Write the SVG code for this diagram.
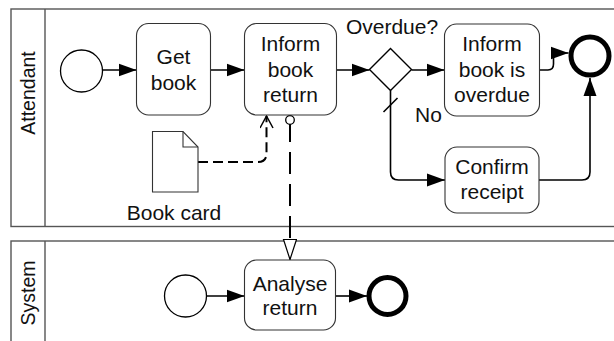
<svg xmlns="http://www.w3.org/2000/svg" width="614" height="341" viewBox="0 0 614 341">
<defs>
<marker id="arr" markerWidth="18" markerHeight="14" refX="18" refY="7" orient="auto" markerUnits="userSpaceOnUse">
<path d="M0,0.5 L18,7 L0,13.5 Z" fill="#000"/>
</marker>
<marker id="open" markerWidth="16" markerHeight="16" refX="13" refY="7" orient="auto" markerUnits="userSpaceOnUse">
<path d="M1,0.5 L13,7 L1,13.5" fill="none" stroke="#000" stroke-width="1.5"/>
</marker>
<marker id="msg" markerWidth="23" markerHeight="16" refX="21" refY="7" orient="auto" markerUnits="userSpaceOnUse">
<path d="M1,0.5 L21,7 L1,13.5 Z" fill="#fff" stroke="#000" stroke-width="1.2"/>
</marker>
<marker id="dot" markerWidth="12" markerHeight="12" refX="6" refY="6" orient="auto" markerUnits="userSpaceOnUse">
<circle cx="6" cy="6" r="4.3" fill="#fff" stroke="#000" stroke-width="1.3"/>
</marker>
</defs>
<style>
text{font-family:"Liberation Sans",Arial,sans-serif;font-size:21px;fill:#111}
.c{text-anchor:middle}
.lbl{font-size:19.5px}
.pool{fill:#fff;stroke:#555;stroke-width:1.4}
.task{fill:#fff;stroke:#333;stroke-width:1.1}
.start{fill:#fff;stroke:#000;stroke-width:1.3}
.end{fill:#fff;stroke:#000;stroke-width:5}
.flow{fill:none;stroke:#000;stroke-width:1.6}
.assoc{fill:none;stroke:#000;stroke-width:2;stroke-dasharray:10 5}
.mflow{fill:none;stroke:#000;stroke-width:2;stroke-dasharray:22 10}
</style>
<rect width="614" height="341" fill="#fff"/>
<g id="pool-attendant">
<rect class="pool" x="11" y="9" width="620" height="217.5"/>
<line class="pool" x1="45" y1="9" x2="45" y2="226.5"/>
<text class="c lbl" transform="translate(35,93) rotate(-90)">Attendant</text>
</g>
<g id="pool-system">
<rect class="pool" x="11" y="241" width="620" height="120"/>
<line class="pool" x1="45" y1="241" x2="45" y2="341"/>
<text class="c lbl" transform="translate(35,293) rotate(-90)">System</text>
</g>
<g id="connectors">
<path class="flow" d="M102.5,70 H136.5" marker-end="url(#arr)"/>
<path class="flow" d="M210.5,70 H244.5" marker-end="url(#arr)"/>
<path class="flow" d="M336.5,70 H369.5" marker-end="url(#arr)"/>
<path class="flow" d="M411.5,70 H444.5" marker-end="url(#arr)"/>
<path class="flow" d="M390.5,90.5 V172 Q390.5,180 398.5,180 H445" marker-end="url(#arr)"/>
<line class="flow" x1="383.5" y1="112" x2="397.5" y2="98"/>
<path class="flow" d="M539.5,70 H548 Q553.5,70 553.5,64 V53 H568.5" marker-end="url(#arr)"/>
<path class="flow" d="M539,180 H582 Q590,180 590,172 V78" marker-end="url(#arr)"/>
<path class="assoc" d="M198,162 H258 Q266.5,162 266.5,153.5 V116" marker-end="url(#open)"/>
<path class="mflow" d="M290,120 V259.5" marker-start="url(#dot)" marker-end="url(#msg)"/>
<path class="flow" d="M207,296 H244.5" marker-end="url(#arr)"/>
<path class="flow" d="M335.5,296 H367" marker-end="url(#arr)"/>
</g>
<g id="start-attendant"><circle class="start" cx="81.5" cy="71" r="21"/></g>
<g id="get-book">
<rect class="task" x="136.5" y="23.5" width="74" height="91.5" rx="12"/>
<text class="c" x="173.5" y="64">Get</text>
<text class="c" x="173.5" y="89.5">book</text>
</g>
<g id="inform-book-return">
<rect class="task" x="244.5" y="23.5" width="92" height="91.5" rx="12"/>
<text class="c" x="290.5" y="51">Inform</text>
<text class="c" x="290.5" y="76.5">book</text>
<text class="c" x="290.5" y="102">return</text>
</g>
<g id="gateway-overdue">
<path d="M390.5,48.5 L411.5,69.5 L390.5,90.5 L369.5,69.5 Z" fill="#fff" stroke="#000" stroke-width="1.4"/>
<text class="c" x="392" y="34">Overdue?</text>
<text x="415" y="122">No</text>
</g>
<g id="inform-book-overdue">
<rect class="task" x="444.5" y="24" width="95" height="92" rx="12"/>
<text class="c" x="492" y="51">Inform</text>
<text class="c" x="492" y="76.5">book is</text>
<text class="c" x="492" y="102">overdue</text>
</g>
<g id="confirm-receipt">
<rect class="task" x="445" y="147" width="94" height="66" rx="12"/>
<text class="c" x="492" y="174">Confirm</text>
<text class="c" x="492" y="198.5">receipt</text>
</g>
<g id="end-attendant"><circle class="end" cx="590" cy="56" r="19"/></g>
<g id="book-card">
<path d="M152.5,131.5 H183 L198,147 V192 H152.5 Z" fill="#fff" stroke="#333" stroke-width="1.1"/>
<path d="M183,131.5 V147 H198" fill="none" stroke="#333" stroke-width="1.1"/>
<text class="c" x="174" y="220">Book card</text>
</g>
<g id="start-system"><circle class="start" cx="185.5" cy="296" r="21"/></g>
<g id="analyse-return">
<rect class="task" x="244.5" y="260" width="91" height="70" rx="12"/>
<text class="c" x="290" y="291">Analyse</text>
<text class="c" x="290" y="315">return</text>
</g>
<g id="end-system"><circle class="end" cx="387.5" cy="296" r="18.5"/></g>
</svg>
